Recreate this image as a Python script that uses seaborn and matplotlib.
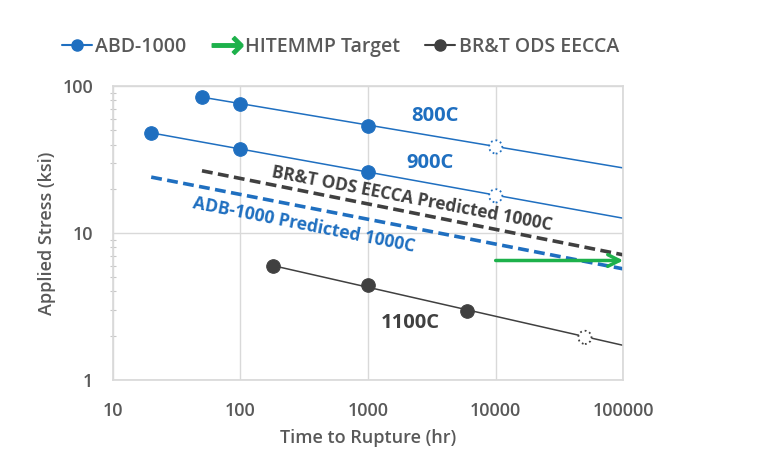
import numpy as np
import pandas as pd
import matplotlib
matplotlib.use("Agg")
import matplotlib.pyplot as plt
import seaborn as sns
from matplotlib.lines import Line2D
from matplotlib.ticker import LogLocator, NullFormatter

# ---- data ----
t800 = [50, 100, 1000]
s800 = [84, 75.5, 53.5]
t800_fit = [50, 100000]
s800_fit = [84, 27.7]
t800_pred = [10000]
s800_pred = [38.5]

t900 = [20, 100, 1000]
s900 = [48, 37.2, 26]
t900_fit = [20, 100000]
s900_fit = [48, 12.6]
t900_pred = [10000]
s900_pred = [17.9]

t1100 = [180, 1000, 6000]
s1100 = [6.0, 4.45, 2.95]
t1100_fit = [180, 100000]
s1100_fit = [6.0, 1.72]
t1100_pred = [50000]
s1100_pred = [1.95]

t_adb1000 = [20, 100000]
s_adb1000 = [24, 5.7]
t_brt1000 = [50, 100000]
s_brt1000 = [26.5, 7.1]

t_target = [10000, 100000]
s_target = [6.5, 6.5]

xticks = [10, 100, 1000, 10000, 100000]
xticklabels = ["10", "100", "1000", "10000", "100000"]
yticks = [1, 10, 100]
yticklabels = ["1", "10", "100"]

BLUE = "#1f6fc0"
GREY = "#404040"
GREEN = "#1db14b"
TXT = "#595959"
GRID = "#d9d9d9"

sns.set_theme(style="white")
plt.rcParams["font.family"] = ["Open Sans", "DejaVu Sans"]

fig = plt.figure(figsize=(7.62, 4.70), dpi=100)
ax = fig.add_axes([0.148, 0.1915, 0.670, 0.6255])

# fitted lines
for tx, sy, c in [(t800_fit, s800_fit, BLUE), (t900_fit, s900_fit, BLUE),
                  (t1100_fit, s1100_fit, GREY)]:
    sns.lineplot(x=tx, y=sy, ax=ax, color=c, lw=1.1, legend=False)

# predicted dashed
sns.lineplot(x=t_adb1000, y=s_adb1000, ax=ax, color=BLUE, lw=2.6,
             linestyle=(0, (3, 1.5)), legend=False)
sns.lineplot(x=t_brt1000, y=s_brt1000, ax=ax, color=GREY, lw=2.6,
             linestyle=(0, (3, 1.5)), legend=False)

# data markers
for tx, sy, c in [(t800, s800, BLUE), (t900, s900, BLUE), (t1100, s1100, GREY)]:
    sns.scatterplot(x=tx, y=sy, ax=ax, color=c, s=95, edgecolor=c, zorder=5,
                    legend=False)
# predicted open markers
for tx, sy, c in [(t800_pred, s800_pred, BLUE), (t900_pred, s900_pred, BLUE),
                  (t1100_pred, s1100_pred, GREY)]:
    sns.scatterplot(x=tx, y=sy, ax=ax, facecolor="white", edgecolor=c, s=90,
                    linewidth=1.3, linestyle=":", zorder=5, legend=False)

# target arrow
ax.annotate("", xy=(t_target[1], s_target[1]), xytext=(t_target[0], s_target[0]),
            arrowprops=dict(arrowstyle="->,head_length=0.7,head_width=0.35",
                            color=GREEN, lw=2.5, shrinkA=0, shrinkB=0),
            zorder=6)

ax.set_xscale("log")
ax.set_yscale("log")
ax.set_xlim(10, 100000)
ax.set_ylim(1, 100)
ax.set_xticks(xticks)
ax.set_xticklabels(xticklabels)
ax.set_yticks(yticks)
ax.set_yticklabels(yticklabels)
ax.xaxis.set_minor_locator(plt.NullLocator())
ax.yaxis.set_minor_locator(LogLocator(base=10, subs=np.arange(2, 10)))
ax.yaxis.set_minor_formatter(NullFormatter())
ax.grid(True, which="major", color=GRID, lw=1)
for sp in ax.spines.values():
    sp.set_color(GRID)
ax.tick_params(axis="x", which="major", length=0, labelsize=13, labelcolor=TXT, pad=16)
ax.tick_params(axis="y", which="major", length=0, labelsize=13, labelcolor=TXT, pad=14)
ax.tick_params(axis="y", which="minor", left=True, length=4, width=0.8,
               color="#c8c8c8", direction="inout")
for lab in ax.get_xticklabels() + ax.get_yticklabels():
    lab.set_fontweight("semibold")

ax.set_xlabel("Time to Rupture (hr)", fontsize=13, color=TXT,
              fontweight="semibold", labelpad=6)
ax.set_ylabel("Applied Stress (ksi)", fontsize=13, color=TXT,
              fontweight="semibold", labelpad=5)

# annotations
ax.text(3350, 62.5, "800C", color=BLUE, fontsize=14.5, fontweight="bold",
        ha="center", va="center")
ax.text(3060, 29.9, "900C", color=BLUE, fontsize=14.5, fontweight="bold",
        ha="center", va="center")
ax.text(2130, 2.44, "1100C", color=GREY, fontsize=14.5, fontweight="bold",
        ha="center", va="center")
ax.text(2213, 17.0, "BR&T ODS EECCA Predicted 1000C", color=GREY, fontsize=12.4,
        fontweight="bold", ha="center", va="center", rotation=-10.8,
        rotation_mode="anchor")
ax.text(315, 11.3, "ADB-1000 Predicted 1000C", color=BLUE, fontsize=12.6,
        fontweight="bold", ha="center", va="center", rotation=-11.2,
        rotation_mode="anchor")

# legend
handles = [
    Line2D([], [], color=BLUE, lw=1.5, marker="o", markersize=8),
    Line2D([], [], color=GREEN, lw=0, marker=r"$\rightarrow$", markersize=22),
    Line2D([], [], color=GREY, lw=1.5, marker="o", markersize=8),
]
labels = ["ABD-1000", "HITEMMP Target", "BR&T ODS EECCA"]
leg = fig.legend(handles, labels, loc="center", bbox_to_anchor=(0.447, 0.9),
                 ncol=3, frameon=False, handlelength=1.5, handletextpad=0.2,
                 columnspacing=1.3,
                 prop={"size": 14, "weight": "semibold"})
for t in leg.get_texts():
    t.set_color(TXT)

fig.savefig("out.png", dpi=100)
